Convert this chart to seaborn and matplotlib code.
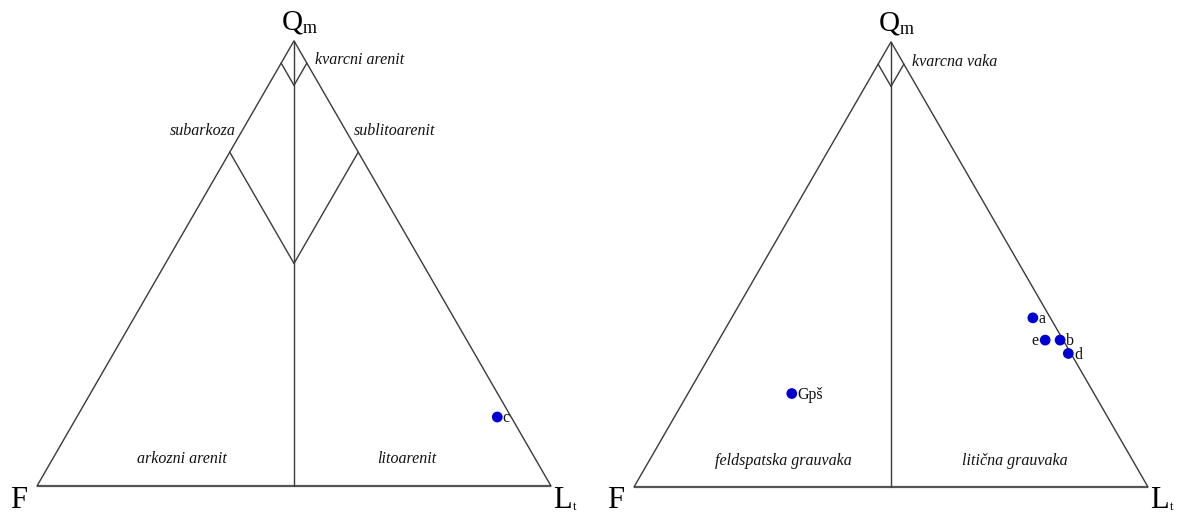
import numpy as np
import pandas as pd
import matplotlib
matplotlib.use("Agg")
import matplotlib.pyplot as plt
import seaborn as sns

# ---------------- data (percentages Qm, F, Lt) ----------------
left_samples = ["c"]
left_Q = [15.5]
left_F = [2.7]
left_L = [81.8]

right_samples = ["a", "b", "d", "e", "Gpš"]
right_Q = [38.0, 33.0, 30.0, 33.0, 21.0]
right_F = [3.4, 0.6, 0.5, 3.5, 58.8]
right_L = [58.6, 66.4, 69.5, 63.5, 20.2]

# field boundaries as (Q, F, L) pairs
left_bounds = [
    [(100, 0, 0), (0, 50, 50)],
    [(95, 5, 0), (90, 5, 5)],
    [(95, 0, 5), (90, 5, 5)],
    [(75, 25, 0), (50, 25, 25)],
    [(75, 0, 25), (50, 25, 25)],
]
right_bounds = [
    [(100, 0, 0), (0, 50, 50)],
    [(95, 5, 0), (90, 5, 5)],
    [(95, 0, 5), (90, 5, 5)],
]

left_fields = ["kvarcni arenit", "subarkoza", "sublitoarenit", "arkozni arenit", "litoarenit"]
right_fields = ["kvarcna vaka", "feldspatska grauvaka", "litična grauvaka"]

# ---------------------------------------------------------------
sns.set_theme(style="white")
plt.rcParams["font.family"] = ["Liberation Serif", "DejaVu Serif"]
plt.rcParams["text.color"] = "black"

W, H, DPI = 11.8, 5.15, 100
fig = plt.figure(figsize=(W, H), dpi=DPI)
UNIT = 514.0
LINE = "#3a3a3a"
PT_COLOR = "#0000d2"


def tern(q, f, l):
    q = np.asarray(q, float); f = np.asarray(f, float); l = np.asarray(l, float)
    s = q + f + l
    q, l = q / s, l / s
    return l + q / 2.0, q * np.sqrt(3) / 2.0


def make_ax(fx_px, base_px):
    x0, x1, y0, y1 = -0.07, 1.07, -0.055, 0.94
    left = (fx_px + x0 * UNIT) / (W * DPI)
    bottom = (H * DPI - base_px + y0 * UNIT) / (H * DPI)
    ax = fig.add_axes([left, bottom, (x1 - x0) * UNIT / (W * DPI), (y1 - y0) * UNIT / (H * DPI)])
    ax.set_xlim(x0, x1)
    ax.set_ylim(y0, y1)
    ax.axis("off")
    return ax


def draw(ax, bounds, samples, Q, F, L, fields, field_pos, label_offsets, dy=0.0):
    # triangle outline
    tx, ty = tern([0, 0, 100, 0], [100, 0, 0, 100], [0, 100, 0, 0])
    ax.plot(tx[:2], ty[:2], color="#555555", lw=1.6, solid_capstyle="butt")
    ax.plot(tx[1:], ty[1:], color=LINE, lw=1.0)
    for a, b in bounds:
        bx, by = tern([a[0], b[0]], [a[1], b[1]], [a[2], b[2]])
        ax.plot(bx, by, color=LINE, lw=1.0)
    # corner labels
    ax.text(0.496, 0.889, "Q", fontsize=21, ha="center", va="baseline")
    ax.text(0.516, 0.881, "m", fontsize=13, ha="left", va="baseline")
    ax.text(-0.035, -0.042 + dy, "F", fontsize=22, ha="center", va="baseline")
    ax.text(1.023, -0.042 + dy, "L", fontsize=22, ha="center", va="baseline")
    ax.text(1.043, -0.046 + dy, "t", fontsize=9, ha="left", va="baseline")
    # field names
    for name, (px, py) in zip(fields, field_pos):
        ax.text(px, py, name, fontsize=11.5, style="italic", ha="center", va="center", color="#111111")
    # samples
    x, y = tern(Q, F, L)
    df = pd.DataFrame({"x": x, "y": y, "s": samples})
    sns.scatterplot(data=df, x="x", y="y", ax=ax, s=60, color=PT_COLOR, edgecolor="none", legend=False, zorder=5)
    ax.set_xlabel(""); ax.set_ylabel("")
    ax.axis("off")
    for xi, yi, s in zip(x, y, samples):
        dx, ha = label_offsets.get(s, (4, "left"))
        ax.annotate(s, (xi, yi), xytext=(dx, -1), textcoords="offset points",
                    ha=ha, va="center", fontsize=11.5, color="#111111")


axL = make_ax(37, 486)
draw(axL, left_bounds, left_samples, left_Q, left_F, left_L, left_fields,
     [(0.628, 0.829), (0.323, 0.691), (0.695, 0.691), (0.282, 0.053), (0.720, 0.053)],
     {"c": (4, "left")})

axR = make_ax(634, 487)
draw(axR, right_bounds, right_samples, right_Q, right_F, right_L, right_fields,
     [(0.623, 0.827), (0.290, 0.051), (0.741, 0.051)],
     {"a": (4, "left"), "b": (4, "left"), "d": (4, "left"), "e": (-5, "right"), "Gpš": (4, "left")},
     dy=0.002)

fig.savefig("out.png", dpi=DPI, facecolor="white")
